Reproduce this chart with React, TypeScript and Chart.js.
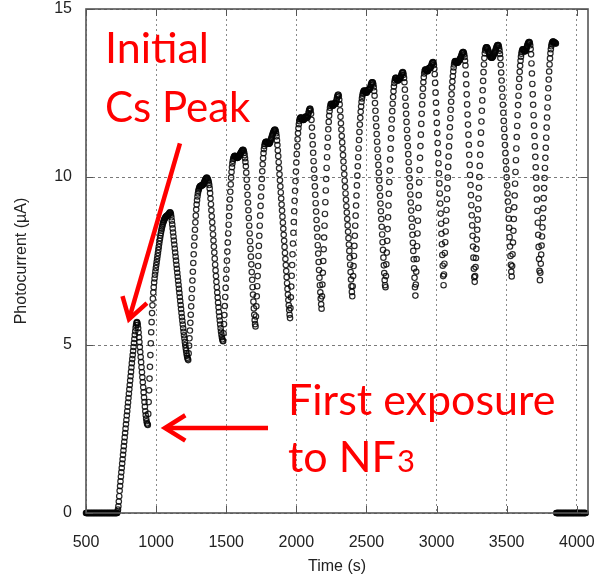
import { useEffect, useRef } from "react";
import { Chart, registerables } from "chart.js";

Chart.register(...registerables);

// Photocurrent log, one reading every 3 s starting at t = 500 s.
const FIRST_SAMPLE_S = 500;
const SAMPLE_INTERVAL_S = 3;

// 500 – 722 s: dark, before caesium reaches the cathode
const baselineBefore = [
  0, 0, 0, 0, 0, 0, 0, 0, 0, 0, 0, 0, 0, 0, 0, 0, 0, 0, 0, 0, 0, 0, 0, 0, 0,
  0, 0, 0, 0, 0, 0, 0, 0, 0, 0, 0, 0, 0, 0, 0, 0, 0, 0, 0, 0, 0, 0, 0, 0, 0,
  0, 0, 0, 0, 0, 0, 0, 0, 0, 0, 0, 0, 0, 0, 0, 0, 0, 0, 0, 0, 0, 0, 0, 0, 0,
];

// 725 – 941 s: initial Cs peak, then first NF3 exposure
const cycle01 = [
  0.04, 0.1, 0.2, 0.34, 0.5, 0.66, 0.8, 0.94, 1.08, 1.21,
  1.34, 1.47, 1.6, 1.73, 1.86, 1.99, 2.12, 2.25, 2.38, 2.51,
  2.64, 2.77, 2.9, 3.03, 3.16, 3.29, 3.42, 3.55, 3.68, 3.81,
  3.94, 4.07, 4.2, 4.33, 4.46, 4.58, 4.7, 4.82, 4.94, 5.06,
  5.18, 5.3, 5.41, 5.51, 5.59, 5.65, 5.68,
  5.66, 5.6, 5.5, 5.37, 5.23, 5.09, 4.94, 4.79, 4.64, 4.49,
  4.34, 4.19, 4.04, 3.89, 3.74, 3.59, 3.44, 3.3, 3.16, 3.03,
  2.91, 2.81, 2.73, 2.67, 2.64, 2.62,
];

// 944 – 1229 s
const cycle02 = [
  2.95, 3.3, 3.65, 4.0, 4.35, 4.7, 5.05, 5.38, 5.68, 5.95,
  6.18, 6.38, 6.56, 6.72, 6.86, 6.98, 7.09, 7.19, 7.29, 7.38,
  7.47, 7.56, 7.65, 7.74, 7.83, 7.92, 8.01, 8.1, 8.18, 8.26,
  8.33, 8.4, 8.46, 8.52, 8.57, 8.62, 8.66, 8.7, 8.73, 8.76,
  8.78, 8.8, 8.82, 8.83, 8.84, 8.85, 8.86, 8.87, 8.88, 8.9,
  8.92, 8.94, 8.95,
  8.93, 8.88, 8.8, 8.7, 8.59, 8.47, 8.35, 8.23, 8.11, 7.99,
  7.87, 7.75, 7.63, 7.51, 7.39, 7.27, 7.15, 7.03, 6.91, 6.79,
  6.67, 6.55, 6.43, 6.31, 6.19, 6.07, 5.95, 5.83, 5.72, 5.61,
  5.5, 5.39, 5.29, 5.19, 5.09, 5.0, 4.91, 4.83, 4.75, 4.68,
  4.62, 4.58, 4.55,
];

// 1232 – 1478 s
const cycle03 = [
  4.75, 4.98, 5.2, 5.43, 5.66, 5.9, 6.15, 6.4, 6.66, 6.92,
  7.18, 7.44, 7.7, 7.96, 8.2, 8.43, 8.65, 8.85, 9.03, 9.18,
  9.31, 9.42, 9.51, 9.58, 9.63, 9.67, 9.7, 9.72, 9.73, 9.74,
  9.74, 9.75, 9.75, 9.76, 9.77, 9.79, 9.81, 9.84, 9.87, 9.9,
  9.93, 9.95, 9.97, 9.98, 9.97, 9.95, 9.92, 9.88, 9.83, 9.76,
  9.66, 9.52, 9.36, 9.19, 9.01, 8.83, 8.65, 8.47, 8.29, 8.11,
  7.93, 7.75, 7.57, 7.39, 7.22, 7.05, 6.88, 6.72, 6.56, 6.41,
  6.26, 6.12, 5.98, 5.85, 5.73, 5.61, 5.5, 5.4, 5.31, 5.23,
  5.17, 5.13, 5.11,
];

// 1481 – 1709 s
const cycle04 = [
  5.35, 5.62, 5.89, 6.16, 6.43, 6.7, 6.97, 7.24, 7.51, 7.78,
  8.05, 8.32, 8.58, 8.84, 9.09, 9.33, 9.56, 9.78, 9.98, 10.15,
  10.29, 10.4, 10.48, 10.54,
  10.58, 10.61, 10.62, 10.63, 10.62, 10.61, 10.6, 10.58, 10.57, 10.57,
  10.58, 10.59, 10.61, 10.63, 10.65, 10.67, 10.7, 10.72, 10.74, 10.76,
  10.78, 10.8, 10.81, 10.8, 10.77, 10.72, 10.65, 10.56, 10.45,
  10.32, 10.13, 9.92, 9.7, 9.47, 9.24, 9.01, 8.78, 8.55, 8.32,
  8.09, 7.86, 7.63, 7.4, 7.17, 6.94, 6.72, 6.5, 6.29, 6.09,
  5.9, 5.74, 5.62, 5.55,
];

// 1712 – 1955 s
const cycle05 = [
  5.85, 6.15, 6.45, 6.75, 7.05, 7.35, 7.65, 7.95, 8.25, 8.55,
  8.85, 9.14, 9.42, 9.69, 9.94, 10.17, 10.38, 10.56,
  10.71, 10.83, 10.92, 10.98, 11.02, 11.04, 11.05, 11.05, 11.04, 11.03,
  11.01, 11.0, 10.99, 10.99, 11.0, 11.02, 11.05, 11.09, 11.13, 11.17,
  11.21, 11.25, 11.29, 11.32, 11.35, 11.38, 11.4, 11.41, 11.4, 11.36,
  11.3, 11.21,
  11.09, 10.95, 10.79, 10.62, 10.44, 10.26, 10.08, 9.9, 9.72, 9.54,
  9.36, 9.18, 9.0, 8.82, 8.64, 8.46, 8.28, 8.1, 7.92, 7.74,
  7.56, 7.38, 7.2, 7.02, 6.84, 6.67, 6.5, 6.34, 6.18, 6.04,
  5.9, 5.8,
];

// 1958 – 2180 s
const cycle06 = [
  6.1, 6.42, 6.74, 7.06, 7.38, 7.7, 8.02, 8.34, 8.66, 8.98,
  9.29, 9.59, 9.88, 10.16, 10.43, 10.68, 10.91, 11.12, 11.3, 11.45,
  11.57,
  11.66, 11.72, 11.75, 11.77, 11.77, 11.76, 11.74, 11.72, 11.71, 11.7,
  11.7, 11.71, 11.73, 11.75, 11.78, 11.8, 11.8, 11.78, 11.76, 11.76,
  11.79, 11.84, 11.9, 11.96, 12.0, 12.03, 12.03, 11.98, 11.88,
  11.7, 11.47, 11.22, 10.97, 10.72, 10.47, 10.22, 9.97, 9.72, 9.47,
  9.22, 8.97, 8.72, 8.47, 8.22, 7.97, 7.72, 7.47, 7.23, 7.0,
  6.78, 6.57, 6.38, 6.21, 6.08,
];

// 2183 – 2399 s
const cycle07 = [
  6.45, 6.8, 7.15, 7.5, 7.85, 8.2, 8.55, 8.9, 9.25, 9.6,
  9.94, 10.27, 10.59, 10.89, 11.17, 11.42, 11.64, 11.82, 11.96, 12.06,
  12.13, 12.17, 12.18, 12.17, 12.15, 12.13, 12.12, 12.13, 12.15, 12.18,
  12.2, 12.19, 12.18, 12.2, 12.25, 12.31, 12.37, 12.42, 12.45, 12.45,
  12.4, 12.3,
  12.16, 11.98, 11.79, 11.6, 11.41, 11.22, 11.03, 10.84, 10.65, 10.46,
  10.27, 10.08, 9.89, 9.7, 9.51, 9.32, 9.13, 8.94, 8.75, 8.56,
  8.37, 8.18, 7.99, 7.8, 7.6, 7.39, 7.17, 6.95, 6.75, 6.58,
  6.45,
];

// 2402 – 2636 s
const cycle08 = [
  6.75, 7.05, 7.35, 7.65, 7.95, 8.25, 8.55, 8.85, 9.15, 9.45,
  9.75, 10.04, 10.32, 10.59, 10.85, 11.1, 11.34, 11.56, 11.76, 11.94,
  12.1, 12.23, 12.34, 12.42, 12.48, 12.52,
  12.55, 12.57, 12.57, 12.56, 12.54, 12.52, 12.51, 12.51, 12.53, 12.55,
  12.58, 12.6, 12.6, 12.6, 12.61, 12.64, 12.68, 12.73, 12.77, 12.8,
  12.82, 12.82, 12.8, 12.75, 12.67, 12.56,
  12.42, 12.2, 11.97, 11.74, 11.51, 11.28, 11.05, 10.82, 10.59, 10.36,
  10.13, 9.9, 9.67, 9.44, 9.21, 8.98, 8.75, 8.52, 8.29, 8.06,
  7.83, 7.6, 7.37, 7.14, 6.93, 6.78, 6.72,
];

// 2639 – 2849 s
const cycle09 = [
  7.05, 7.4, 7.75, 8.1, 8.45, 8.8, 9.15, 9.5, 9.85, 10.19,
  10.52, 10.84, 11.15, 11.44, 11.71, 11.96, 12.18, 12.38, 12.55, 12.69,
  12.8, 12.88,
  12.93, 12.95, 12.95, 12.93, 12.9, 12.88, 12.87, 12.87, 12.89, 12.92,
  12.94, 12.95, 12.95, 12.97, 13.01, 13.05, 13.09, 13.11, 13.12, 13.1,
  13.04, 12.95,
  12.82, 12.6, 12.36, 12.12, 11.88, 11.64, 11.4, 11.16, 10.92, 10.68,
  10.44, 10.2, 9.96, 9.72, 9.48, 9.24, 9.0, 8.76, 8.52, 8.28,
  8.04, 7.8, 7.55, 7.28, 7.0, 6.72, 6.47,
];

// 2852 – 3050 s
const cycle10 = [
  6.8, 7.18, 7.56, 7.94, 8.32, 8.7, 9.08, 9.46, 9.84, 10.21,
  10.57, 10.92, 11.26, 11.58, 11.88, 12.16, 12.41, 12.63, 12.82, 12.97,
  13.08,
  13.15, 13.19, 13.2, 13.2, 13.18, 13.16, 13.15, 13.15, 13.17, 13.2,
  13.23, 13.25, 13.25, 13.24, 13.25, 13.28, 13.32, 13.36, 13.39, 13.41,
  13.42, 13.4, 13.33, 13.22,
  13.06, 12.8, 12.51, 12.21, 11.91, 11.61, 11.31, 11.01, 10.71, 10.41,
  10.11, 9.81, 9.51, 9.21, 8.91, 8.61, 8.31, 8.0, 7.68, 7.36,
  7.05, 6.78,
];

// 3053 – 3272 s
const cycle11 = [
  7.1, 7.42, 7.74, 8.06, 8.38, 8.7, 9.02, 9.34, 9.66, 9.98,
  10.3, 10.61, 10.91, 11.2, 11.48, 11.75, 12.0, 12.24, 12.46, 12.66,
  12.84, 13.0, 13.14, 13.26, 13.35, 13.41,
  13.44, 13.45, 13.44, 13.42, 13.41, 13.4, 13.4, 13.41, 13.43, 13.45,
  13.47, 13.49, 13.51, 13.53, 13.56, 13.6, 13.64, 13.68, 13.7, 13.72,
  13.72, 13.7, 13.65, 13.57, 13.46,
  13.32, 13.05, 12.76, 12.46, 12.16, 11.86, 11.56, 11.26, 10.96, 10.66,
  10.36, 10.06, 9.76, 9.46, 9.16, 8.86, 8.56, 8.25, 7.93, 7.6,
  7.27, 7.02, 6.88,
];

// 3275 – 3536 s
const cycle12 = [
  7.05, 7.32, 7.59, 7.86, 8.14, 8.43, 8.73, 9.04, 9.36, 9.68,
  10.0, 10.33, 10.66, 10.99, 11.32, 11.65, 11.97, 12.28, 12.58, 12.86,
  13.12, 13.35, 13.54, 13.68, 13.77, 13.82,
  13.85, 13.86, 13.86, 13.84, 13.81, 13.77, 13.73, 13.69, 13.65, 13.62,
  13.59, 13.57, 13.56, 13.55, 13.55, 13.56, 13.58, 13.6, 13.63, 13.66,
  13.69, 13.72, 13.75, 13.79, 13.83, 13.87, 13.9, 13.92, 13.93, 13.93,
  13.9, 13.84, 13.76, 13.66,
  13.54, 13.34, 13.11, 12.87, 12.63, 12.39, 12.15, 11.91, 11.67, 11.43,
  11.19, 10.95, 10.71, 10.47, 10.23, 9.99, 9.75, 9.51, 9.27, 9.02,
  8.76, 8.49, 8.21, 7.93, 7.65, 7.39, 7.18, 7.04,
];

// 3539 – 3737 s
const cycle13 = [
  7.35, 7.7, 8.05, 8.4, 8.75, 9.1, 9.45, 9.8, 10.15, 10.5,
  10.85, 11.19, 11.52, 11.84, 12.14, 12.42, 12.68, 12.92, 13.13, 13.31,
  13.46, 13.58, 13.67,
  13.73, 13.77, 13.8, 13.8, 13.79, 13.77, 13.75, 13.74, 13.74, 13.76,
  13.79, 13.83, 13.87, 13.91, 13.95, 13.98, 14.0, 14.02, 14.02, 13.99,
  13.92, 13.81,
  13.65, 13.38, 13.08, 12.77, 12.46, 12.15, 11.84, 11.53, 11.22, 10.91,
  10.6, 10.29, 9.98, 9.66, 9.33, 8.99, 8.64, 8.28, 7.92, 7.56,
  7.21, 6.93,
];

// 3740 – 3851 s: last recovery before the light is switched off
const cycle14 = [
  7.15, 7.42, 7.69, 7.96, 8.23, 8.5, 8.78, 9.07, 9.37, 9.67,
  9.97, 10.27, 10.57, 10.87, 11.17, 11.47, 11.77, 12.07, 12.36, 12.64,
  12.9, 13.14, 13.35, 13.53, 13.68, 13.8,
  13.89, 13.95, 13.99, 14.02, 14.03, 14.03, 14.02, 14.01, 14.0, 13.99,
  13.98, 13.97,
];

// 3854 – 4064 s: light off
const baselineAfter = [
  0, 0, 0, 0, 0, 0, 0, 0, 0, 0, 0, 0, 0, 0, 0, 0, 0, 0, 0, 0, 0, 0, 0, 0,
  0, 0, 0, 0, 0, 0, 0, 0, 0, 0, 0, 0, 0, 0, 0, 0, 0, 0, 0, 0, 0, 0, 0, 0,
  0, 0, 0, 0, 0, 0, 0, 0, 0, 0, 0, 0, 0, 0, 0, 0, 0, 0, 0, 0, 0, 0, 0,
];

const timeTicks = [500, 1000, 1500, 2000, 2500, 3000, 3500, 4000];
const currentTicks = [0, 5, 10, 15];
const TIME_MIN = 500;
const TIME_MAX = 4080;
const CURRENT_MIN = 0;
const CURRENT_MAX = 15;

// Annotation anchors in data units (time s, current µA)
const peakArrowTail = { x: 1170, y: 11.0 };
const peakArrowTip = { x: 807, y: 5.77 };
const nf3ArrowTail = { x: 1798, y: 2.53 };
const nf3ArrowTip = { x: 1063, y: 2.53 };
const peakLabelLines = ["Initial", "Cs Peak"];
const peakLabelAt = [
  { x: 635, y: 13.39 },
  { x: 635, y: 11.64 },
];
const nf3LabelLine1 = "First exposure";
const nf3LabelLine2 = "to NF";
const nf3LabelSub = "3";
const nf3LabelAt = [
  { x: 1941, y: 2.93 },
  { x: 1941, y: 1.22 },
];

const RED = "#ff0000";
const FRAME = "#555555";
const AXIS_FONT = "'Liberation Sans', Arial, sans-serif";
const NOTE_FONT = "Lato, 'Noto Sans', sans-serif";

const framePlugin = {
  id: "frameAndInnerTicks",
  afterDatasetsDraw(chart: any) {
    const { ctx, chartArea: a, scales } = chart;
    ctx.save();
    ctx.strokeStyle = FRAME;
    ctx.lineWidth = 1;
    const len = 7;
    ctx.beginPath();
    for (const v of timeTicks) {
      const px = Math.round(scales.x.getPixelForValue(v)) + 0.5;
      ctx.moveTo(px, a.bottom);
      ctx.lineTo(px, a.bottom - len);
      ctx.moveTo(px, a.top);
      ctx.lineTo(px, a.top + len);
    }
    for (const v of currentTicks) {
      const py = Math.round(scales.y.getPixelForValue(v)) + 0.5;
      ctx.moveTo(a.left, py);
      ctx.lineTo(a.left + len, py);
      ctx.moveTo(a.right, py);
      ctx.lineTo(a.right - len, py);
    }
    ctx.stroke();
    ctx.lineWidth = 1.6;
    ctx.strokeRect(a.left, a.top, a.right - a.left, a.bottom - a.top);
    ctx.restore();
  },
};

function drawArrow(ctx: CanvasRenderingContext2D, x0: number, y0: number, x1: number, y1: number) {
  const ang = Math.atan2(y0 - y1, x0 - x1);
  const head = 24;
  const spread = (32 * Math.PI) / 180;
  ctx.beginPath();
  ctx.moveTo(x0, y0);
  ctx.lineTo(x1, y1);
  ctx.stroke();
  ctx.beginPath();
  ctx.moveTo(x1 + head * Math.cos(ang - spread), y1 + head * Math.sin(ang - spread));
  ctx.lineTo(x1, y1);
  ctx.lineTo(x1 + head * Math.cos(ang + spread), y1 + head * Math.sin(ang + spread));
  ctx.stroke();
}

const notesPlugin = {
  id: "notes",
  afterDraw(chart: any) {
    const { ctx, scales } = chart;
    const X = (v: number) => scales.x.getPixelForValue(v);
    const Y = (v: number) => scales.y.getPixelForValue(v);
    ctx.save();
    ctx.strokeStyle = RED;
    ctx.fillStyle = RED;
    ctx.lineWidth = 4.5;
    ctx.lineCap = "butt";
    ctx.lineJoin = "miter";
    drawArrow(ctx, X(peakArrowTail.x), Y(peakArrowTail.y), X(peakArrowTip.x), Y(peakArrowTip.y));
    drawArrow(ctx, X(nf3ArrowTail.x), Y(nf3ArrowTail.y), X(nf3ArrowTip.x), Y(nf3ArrowTip.y));

    ctx.textBaseline = "alphabetic";
    ctx.textAlign = "left";
    ctx.font = `43px ${NOTE_FONT}`;
    ctx.fillText(peakLabelLines[0], X(peakLabelAt[0].x), Y(peakLabelAt[0].y));
    ctx.font = `42px ${NOTE_FONT}`;
    ctx.fillText(peakLabelLines[1], X(peakLabelAt[1].x), Y(peakLabelAt[1].y));
    ctx.font = `43px ${NOTE_FONT}`;
    ctx.fillText(nf3LabelLine1, X(nf3LabelAt[0].x), Y(nf3LabelAt[0].y));
    const x2 = X(nf3LabelAt[1].x);
    const y2 = Y(nf3LabelAt[1].y);
    ctx.fillText(nf3LabelLine2, x2, y2);
    const w = ctx.measureText(nf3LabelLine2).width;
    ctx.font = `31px ${NOTE_FONT}`;
    ctx.fillText(nf3LabelSub, x2 + w + 1, y2);
    ctx.restore();
  },
};

export default function App() {
  const canvasRef = useRef<HTMLCanvasElement>(null);

  useEffect(() => {
    const canvas = canvasRef.current;
    if (!canvas) return;
    const readings = [
      baselineBefore, cycle01, cycle02, cycle03, cycle04, cycle05, cycle06, cycle07,
      cycle08, cycle09, cycle10, cycle11, cycle12, cycle13, cycle14, baselineAfter,
    ].flat();
    const points = readings.map((v, i) => ({ x: FIRST_SAMPLE_S + i * SAMPLE_INTERVAL_S, y: v }));

    const chart = new Chart(canvas, {
      type: "scatter",
      data: {
        datasets: [
          {
            data: points,
            pointStyle: "circle",
            pointRadius: 2.7,
            pointHoverRadius: 2.7,
            borderWidth: 1.2,
            borderColor: "rgba(5,5,5,0.85)",
            backgroundColor: "rgba(0,0,0,0)",
            clip: false,
          } as any,
        ],
      },
      options: {
        animation: false,
        responsive: false,
        events: [],
        layout: { padding: { top: 9, right: 6, bottom: 0, left: 0 } },
        plugins: { legend: { display: false }, tooltip: { enabled: false } },
        scales: {
          x: {
            type: "linear",
            min: TIME_MIN,
            max: TIME_MAX,
            afterBuildTicks: (s: any) => {
              s.ticks = timeTicks.map((value) => ({ value }));
            },
            afterFit: (s: any) => {
              s.height = 63;
              s.paddingLeft = 0;
              s.paddingRight = 0;
            },
            grid: { color: "#8a8a8a", lineWidth: 1, drawTicks: false },
            border: { display: false, dash: [2, 3] },
            ticks: {
              padding: 20,
              color: "#222",
              maxRotation: 0,
              font: { family: AXIS_FONT, size: 16 },
              callback: (v: any) => String(v),
            },
            title: {
              display: true,
              text: "Time (s)",
              color: "#222",
              font: { family: AXIS_FONT, size: 16 },
              padding: { top: 0, bottom: 0 },
            },
          },
          y: {
            type: "linear",
            min: CURRENT_MIN,
            max: CURRENT_MAX,
            afterBuildTicks: (s: any) => {
              s.ticks = currentTicks.map((value) => ({ value }));
            },
            afterFit: (s: any) => {
              s.width = 86;
              s.paddingTop = 0;
              s.paddingBottom = 0;
            },
            grid: { color: "#7a7a7a", lineWidth: 1, drawTicks: false },
            border: { display: false, dash: [3, 3] },
            ticks: {
              padding: 14,
              color: "#222",
              font: { family: AXIS_FONT, size: 16 },
              callback: (v: any) => String(v),
            },
            title: {
              display: true,
              text: "Photocurrent (µA)",
              color: "#222",
              font: { family: AXIS_FONT, size: 16 },
              padding: { top: 12, bottom: 0 },
            },
          },
        },
      },
      plugins: [framePlugin, notesPlugin],
    });

    return () => chart.destroy();
  }, []);

  return (
    <div style={{ position: "absolute", left: 0, top: 0, width: 594, height: 576, background: "#fff" }}>
      <canvas ref={canvasRef} width={594} height={576} style={{ display: "block", width: 594, height: 576 }} />
    </div>
  );
}
